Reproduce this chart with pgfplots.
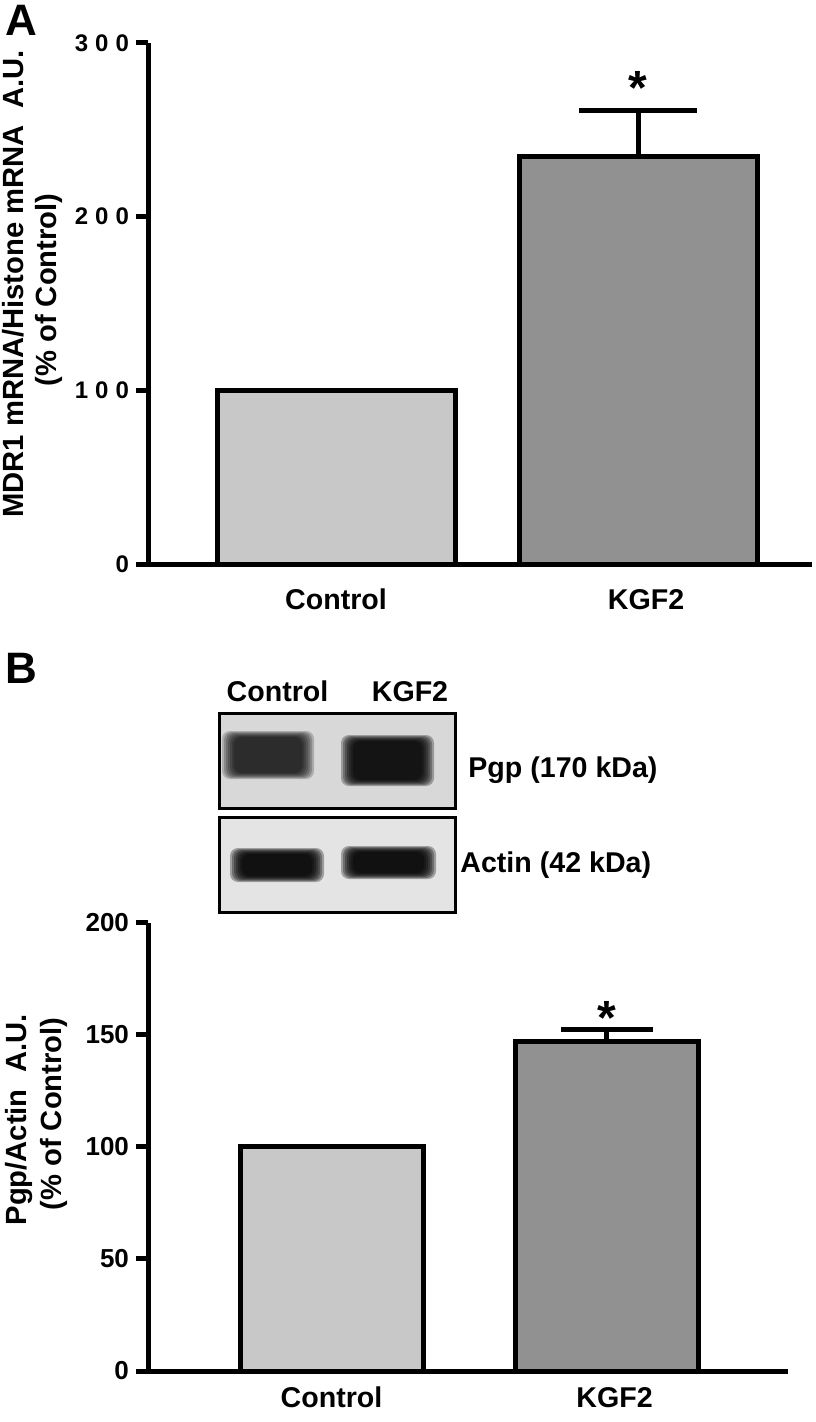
\documentclass[border=0pt]{standalone}
\usepackage{fontspec}
\setmainfont{Liberation Sans}
\usepackage{pgfplots}
\pgfplotsset{compat=1.18}

\definecolor{ctrlfill}{RGB}{200,200,200}
\definecolor{kgffill}{RGB}{145,145,145}
\definecolor{blotbg}{RGB}{228,228,228}

\newcommand{\fs}[1]{\fontsize{#1}{#1}\selectfont\bfseries}
% soft blot band: x1 y1 x2 y2 opacity-per-layer
\newcommand{\band}[5]{%
  \foreach \d in {0,2,...,12}{%
    \fill[black, opacity=#5, rounded corners=4pt] (#1+\d,#2+0.5*\d) rectangle (#3-\d,#4-0.5*\d);
  }}

\pgfplotsset{
  barpanel/.style={
    scale only axis,
    axis x line=bottom, axis y line=left,
    axis line style={line width=2.5pt, -},
    ymin=0,
    xtick={1,2},
    x tick style={draw=none},
    y tick style={line width=2.5pt, black},
    tick align=outside,
    major tick length=6pt,
    ybar, bar shift=0pt,
    clip=false,
  },
}

\begin{document}
\begin{tikzpicture}
\path[use as bounding box] (0,0) rectangle (407.5pt,-711pt);

% panel A
\begin{axis}[barpanel,
  at={(74pt,-282pt)}, anchor=south west,
  width=332pt, height=260.5pt,
  xmin=0.3775, xmax=2.576, ymax=300,
  bar width=0.788,
  xticklabels={Control,\hspace*{8pt}KGF2},
  xticklabel style={font=\fs{14.3}, yshift=-3pt},
  ytick={0,100,200,300},
  yticklabels={0,1\hspace{3.5pt}0\hspace{3.5pt}0,2\hspace{3.5pt}0\hspace{3.5pt}0,3\hspace{3.5pt}0\hspace{3.5pt}0},
  yticklabel style={font=\fs{12}},
]
\addplot[fill=ctrlfill, draw=black, line width=2.5pt] coordinates {(1,100)};
\addplot[fill=kgffill, draw=black, line width=2.5pt,
  error bars/.cd, y dir=plus, y explicit,
  error bar style={line width=2.5pt, black},
  error mark options={rotate=90, mark size=29.5pt, line width=2.5pt, black}]
  coordinates {(2,234.6) +- (0,26.5)};
\node[font=\fs{24}, anchor=north, inner sep=0pt] at (axis cs:2,284) {*};
\end{axis}

% panel B
\begin{axis}[barpanel,
  at={(74pt,-685.5pt)}, anchor=south west,
  width=320pt, height=224.15pt,
  xmin=0.3327, xmax=2.66, ymax=200,
  bar width=0.6655,
  xticklabels={Control,\hspace*{8pt}KGF2},
  xticklabel style={font=\fs{14.3}, yshift=1.5pt},
  ytick={0,50,100,150,200},
  yticklabels={0,50,100,150,200},
  yticklabel style={font=\fs{13}},
]
\addplot[fill=ctrlfill, draw=black, line width=2.5pt] coordinates {(1,100)};
\addplot[fill=kgffill, draw=black, line width=2.5pt,
  error bars/.cd, y dir=plus, y explicit,
  error bar style={line width=2.5pt, black},
  error mark options={rotate=90, mark size=23pt, line width=2.5pt, black}]
  coordinates {(2,147) +- (0,5.3)};
\node[font=\fs{24}, anchor=north, inner sep=0pt] at (axis cs:2,165) {*};
\end{axis}

\begin{scope}[x=0.5pt, y=-0.5pt]
% panel letters and axis titles
\node[font=\fs{22}] at (21,20) {A};
\node[font=\fs{22}] at (21,668) {B};
\node[font=\fs{14.6}, rotate=90, anchor=base] at (24,284) {MDR1 mRNA/Histone mRNA\ \ A.U.};
\node[font=\fs{14.6}, rotate=90, anchor=base] at (56,290) {(\% of Control)};
\node[font=\fs{14.6}, rotate=90, anchor=base] at (26,1120) {Pgp/Actin\ \ A.U.};
\node[font=\fs{14.6}, rotate=90, anchor=base] at (61,1114) {(\% of Control)};

% western blot inset
\fill[blotbg!95!black] (219,713) rectangle (455,808);
\fill[blotbg] (219,817) rectangle (455,912);
\band{222}{731}{314}{779}{0.2}
\band{341}{735}{434}{786}{0.28}
\band{230}{848}{324}{882}{0.3}
\band{341}{846}{436}{879}{0.3}
\draw[line width=1.5pt] (219,713) rectangle (455,808);
\draw[line width=1.5pt] (219,817) rectangle (455,912);
\node[font=\fs{14.3}, anchor=base] at (277.5,701) {Control};
\node[font=\fs{14.3}, anchor=base] at (410,701) {KGF2};
\node[font=\fs{14.3}, anchor=base west, inner sep=0pt] at (468,777) {Pgp (170 kDa)};
\node[font=\fs{14.3}, anchor=base west, inner sep=0pt] at (460,872) {Actin (42 kDa)};
\end{scope}
\end{tikzpicture}
\end{document}
